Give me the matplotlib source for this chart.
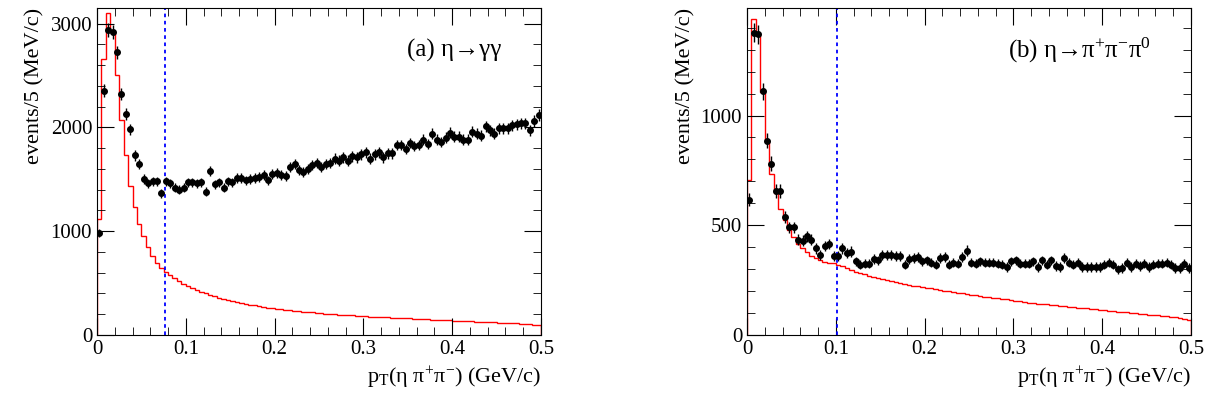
import numpy as np
import matplotlib
matplotlib.use("Agg")
import matplotlib.pyplot as plt
from matplotlib.ticker import MultipleLocator

bin_edges = np.linspace(0, 0.5, 101)

data_a = [980, 2355, 2940, 2920, 2725, 2325, 2130, 1980, 1730, 1645,
          1500, 1460, 1480, 1480, 1365, 1480, 1460, 1420, 1400, 1420,
          1470, 1470, 1460, 1470, 1380, 1580, 1450, 1470, 1420, 1480,
          1470, 1510, 1510, 1490, 1500, 1510, 1520, 1540, 1490, 1550,
          1560, 1540, 1530, 1620, 1650, 1590, 1570, 1600, 1640, 1660,
          1620, 1650, 1660, 1700, 1680, 1710, 1680, 1720, 1710, 1740,
          1760, 1700, 1740, 1760, 1710, 1750, 1750, 1830, 1830, 1790,
          1850, 1820, 1830, 1880, 1840, 1940, 1880, 1860, 1900, 1950,
          1910, 1910, 1880, 1880, 1960, 1940, 1920, 2010, 1970, 1940,
          1990, 1990, 1990, 2020, 2030, 2040, 2040, 1970, 2060, 2120, 2150]
data_a = data_a[:100]

sim_a = [1120, 2660, 3100, 2920, 2500, 2075, 1730, 1435, 1230, 1065,
         950, 845, 760, 695, 650, 610, 580, 550, 520, 495,
         472, 452, 433, 416, 400, 386, 372, 360, 348, 337,
         327, 318, 309, 300, 292, 285, 278, 271, 264, 258,
         253, 248, 243, 238, 233, 229, 225, 221, 217, 213,
         209, 206, 203, 200, 197, 194, 191, 188, 186, 183,
         181, 178, 176, 174, 171, 169, 167, 165, 163, 161,
         159, 157, 155, 153, 151, 149, 147, 145, 143, 141,
         139, 137, 135, 133, 131, 129, 127, 125, 123, 121,
         119, 117, 115, 113, 111, 109, 107, 104, 101, 98]

data_b = [617, 1378, 1370, 1110, 886, 780, 656, 656, 538, 490,
          490, 435, 430, 450, 435, 395, 365, 405, 415, 360,
          360, 395, 375, 380, 335, 320, 325, 325, 345, 340,
          365, 365, 365, 360, 360, 320, 345, 350, 355, 335,
          340, 330, 320, 350, 355, 320, 330, 325, 355, 385,
          330, 325, 335, 330, 330, 330, 325, 320, 310, 335,
          340, 325, 325, 325, 335, 310, 340, 320, 340, 315,
          310, 350, 330, 320, 330, 310, 310, 310, 310, 310,
          320, 330, 320, 300, 305, 330, 310, 325, 315, 325,
          310, 320, 325, 325, 330, 320, 305, 305, 325, 305]

sim_b = [705, 1440, 1370, 1105, 890, 735, 645, 575, 523, 480,
         445, 415, 395, 378, 362, 350, 340, 333, 328, 326,
         320, 314, 305, 296, 288, 282, 276, 270, 265, 260,
         255, 250, 245, 240, 236, 232, 228, 225, 222, 220,
         216, 212, 208, 205, 202, 199, 196, 193, 190, 187,
         184, 181, 178, 175, 172, 170, 168, 165, 162, 159,
         157, 154, 151, 148, 145, 143, 141, 139, 137, 135,
         133, 131, 129, 127, 125, 123, 121, 119, 117, 115,
         113, 111, 109, 107, 105, 103, 101, 99, 97, 95,
         93, 91, 89, 87, 85, 83, 80, 77, 74, 70]

panels = [
    dict(data=data_a, sim=sim_a, ymax=3150, cut=0.077, label="(a) η→γγ",
         major=1000, minor=200, left=97),
    dict(data=data_b, sim=sim_b, ymax=1490, cut=0.101,
         label=r"(b) η→π$^{\mathregular{+}}$π$^{\mathregular{-}}$π$^{\mathregular{0}}$",
         major=500, minor=100, left=747),
]

plt.rcParams['font.family'] = ['Liberation Serif', 'DejaVu Serif']
plt.rcParams['mathtext.fontset'] = 'custom'
plt.rcParams['mathtext.rm'] = 'Liberation Serif'
plt.rcParams['mathtext.it'] = 'Liberation Serif'
plt.rcParams['mathtext.default'] = 'regular'

fig = plt.figure(figsize=(12.19, 4.07), dpi=100)
W, H = 1219, 407
centers = 0.5 * (bin_edges[:-1] + bin_edges[1:])
for p in panels:
    ax = fig.add_axes([p['left'] / W, (H - 335) / H, 444 / W, 327 / H])
    d = np.array(p['data'], float)
    ax.stairs(p['sim'], bin_edges, color='red', lw=1.0)
    ax.errorbar(centers, d, yerr=np.sqrt(d) * 1.2, fmt='o', color='black', ms=4, elinewidth=1, capsize=0)
    ax.axvline(p['cut'], color='blue', ls=(0, (2, 2)), lw=1.3)
    ax.set_xlim(0, 0.5)
    ax.set_ylim(0, p['ymax'])
    ax.xaxis.set_major_locator(MultipleLocator(0.1))
    ax.xaxis.set_minor_locator(MultipleLocator(0.02))
    ax.yaxis.set_major_locator(MultipleLocator(p['major']))
    ax.yaxis.set_minor_locator(MultipleLocator(p['minor']))
    ax.tick_params(which='both', direction='in', top=True, right=True, labelsize=15)
    ax.tick_params(which='major', length=12)
    ax.tick_params(which='minor', length=6)
    ax.xaxis.set_major_formatter(matplotlib.ticker.FuncFormatter(lambda v, _: '0' if v == 0 else f"{v:g}"))
    ax.set_xlabel(r"p$_{\mathregular{T}}$(η π$^{\mathregular{+}}$π$^{\mathregular{-}}$) (GeV/c)", fontsize=16, loc='right')
    ax.set_ylabel("events/5 (MeV/c)", fontsize=16, loc='top')
    ax.text(0.91, 0.87, p['label'], transform=ax.transAxes, ha='right', va='center', fontsize=18)

fig.savefig("out.png", dpi=100)
